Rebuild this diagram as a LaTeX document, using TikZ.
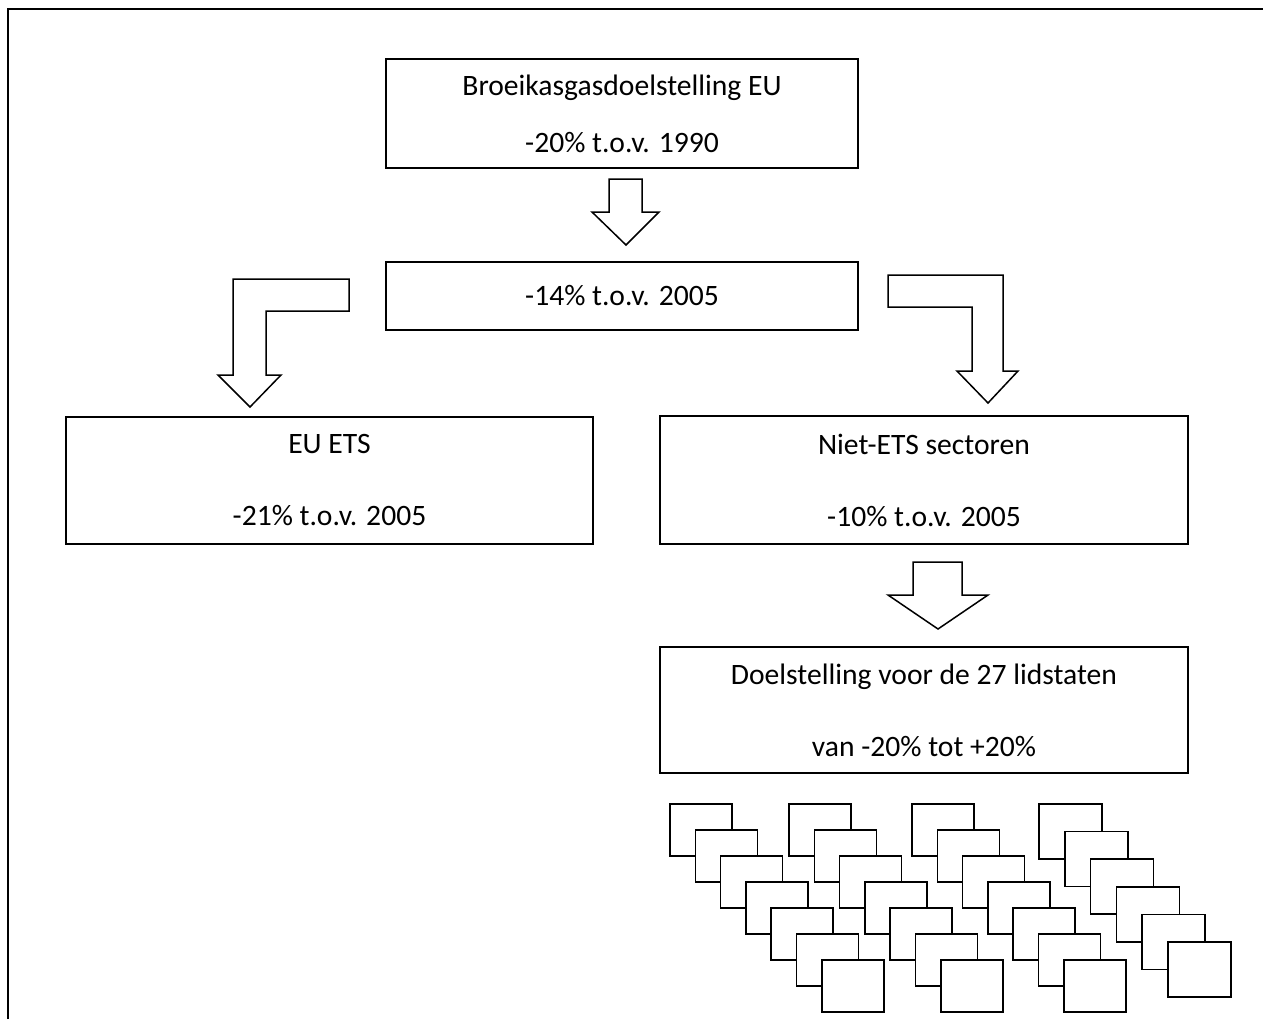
\documentclass[tikz,border=0pt]{standalone}
\usepackage{fontspec}
\setmainfont{Carlito}
\usetikzlibrary{positioning}

\begin{document}
\begin{tikzpicture}[x=0.5pt, y=-0.5pt, line width=0.75pt,
  doel/.style={draw, fill=white, align=center, inner sep=0pt, font=\fontsize{14.8}{36}\selectfont},
  blokpijl/.style={draw, fill=white, line join=miter},
  lidstaat/.style={draw, fill=white}]
  \useasboundingbox (0,0) rectangle (1263,1019);
  \draw[line width=1pt] (8,1019) -- (8,9) -- (1263,9);
  \node[doel, minimum width=236pt, minimum height=54.5pt, font=\fontsize{14.8}{28.5}\selectfont] (eu) at (622,113.5) {Broeikasgasdoelstelling EU\\-20\% t.o.v. 1990};
  \node[doel, minimum width=236pt, minimum height=34pt] (totaal) at (622,296) {-14\% t.o.v. 2005};
  \node[doel, minimum width=263.5pt, minimum height=63.5pt] (ets) at (329.5,480.5) {EU ETS\\-21\% t.o.v. 2005};
  \node[doel, minimum width=264pt, minimum height=64pt] (nets) at (924,480) {Niet-ETS sectoren\\-10\% t.o.v. 2005};
  \node[doel, minimum width=264pt, minimum height=63pt] (lid) at (924,710) {Doelstelling voor de 27 lidstaten\\van -20\% tot +20\%};
  \draw[blokpijl] (609,179) -- (642,179) -- (642,212) -- (659,212) -- (626,245) -- (592,212) -- (609,212) -- cycle;
  \draw[blokpijl] (349,279) -- (233,279) -- (233,375) -- (218,375) -- (250,407) -- (281,375) -- (266,375) -- (266,311) -- (349,311) -- cycle;
  \draw[blokpijl] (888,275) -- (1003,275) -- (1003,371) -- (1018,371) -- (988,403) -- (957,371) -- (972,371) -- (972,307) -- (888,307) -- cycle;
  \draw[blokpijl] (913,562) -- (962,562) -- (962,595) -- (988,595) -- (938,629) -- (888,595) -- (913,595) -- cycle;
  \foreach \gx in {670,789,912}
    \foreach \i in {0,...,6}
      \draw[lidstaat] ({\gx+25.3*\i},{804+26*\i}) rectangle +(62,52);
  \foreach \i in {0,...,5}
    \draw[lidstaat] ({1039+25.8*\i},{804+27.6*\i}) rectangle +(63,55);
\end{tikzpicture}
\end{document}
